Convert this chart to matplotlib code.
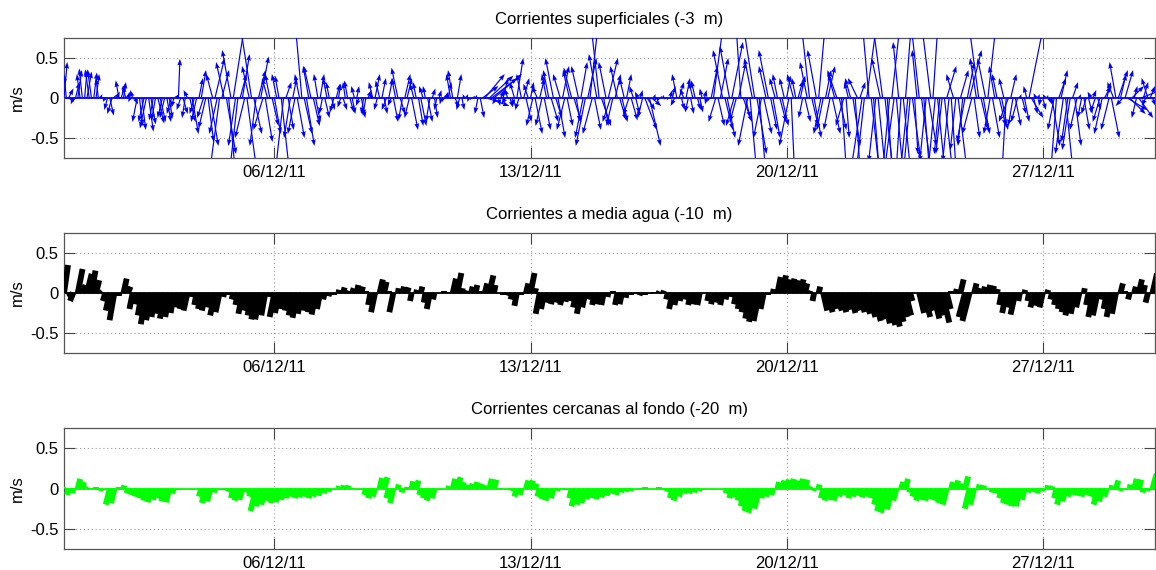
import numpy as np
import matplotlib

matplotlib.use("Agg")
import matplotlib.pyplot as plt
from matplotlib.collections import LineCollection

plt.rcParams["font.family"] = ["Liberation Sans", "DejaVu Sans"]
plt.rcParams["font.size"] = 12

# Time in days of December 2011 (1.0 = 01/12/11 00:00)
T_START = 0.25
SURF_STEP = 0.0625   # surface records every 1.5 h
DEEP_STEP = 0.125    # mid-water and bottom records every 3 h

# Surface currents (-3 m), east / north components in cm/s, one day per row
surf_u = [
    4, -3, 6, 4, -3, 5, 5, -4, -4, 3, 6, -5, -5, 4, 4, -3,
    2, 3, -3, -4, 5, -6, 2, 4, -4, 5, 3, -4, 2, -3, -3, 4,
    -6, 4, 5, -7, -8, 6, 6, -5, -5, 8, 7, -6, -6, 5, 4, -6,
    -3, 4, 2, -5, 6, -4, -5, 7, 8, -6, -7, 5, 6, -8, -9, 7,
    10, -8, 12, -10, -12, 9, -10, 12, 8, -11, 14, -9, -10, 8, 9, -12,
    12, -9, -14, 10, -8, 9, 10, -12, 9, -7, -6, 8, 8, -6, -5, 10,
    -10, 7, 7, -8, 5, -9, 9, -6, -8, 10, 10, -7, -9, 8, 6, -5,
    5, -4, 6, -5, -4, 4, -5, 5, 3, -4, 5, -3, -4, 5, 4, -4,
    3, -4, 5, -3, -4, 4, 2, -5, 6, -4, -5, 5, 4, -6, 5, -4,
    6, -5, -8, 6, -5, 7, 6, -6, 8, -5, -4, 6, 7, -5, -3, 6,
    -5, 4, 4, -3, 3, -2, -2, 3, 4, -5, -6, 5, 5, -4, 3, -2,
    2, -2, -1, 2, 2, -4, 5, 20, 25, 28, 30, 32, 35, -5, 2, 4,
    6, -5, -4, 4, 3, -6, 8, -5, -6, 7, 7, -6, 4, -8, 9, -7,
    6, -8, 8, -6, -7, 9, -10, 8, 9, -9, 8, -10, 7, -8, -10, 9,
    5, -9, 8, -10, -12, 11, 10, -12, 8, -10, -10, 12, 6, -9, 12, -10,
    -8, 7, -9, 8, 7, -6, 6, -7, 8, -5, 5, -4, 3, -6, 15, 10,
    14, 12, 2, -3, -2, 2, 1, -2, -1, 3, 4, -5, -6, 6, 4, -5,
    5, -4, 4, -5, -5, 4, 4, -3, 3, -2, -2, 8, 12, -9, 8, 10,
    -12, 10, 10, -12, 14, -10, -8, 9, -6, 11, 6, -12, 8, -10, -14, 12,
    8, -10, 10, -9, -12, 8, 9, -7, -6, 8, 8, -6, 5, -12, 4, -8,
    -5, 6, 6, -5, 7, -9, -10, 8, 9, -11, 8, -9, -8, 7, 9, -8,
    10, -8, -12, 9, 6, -10, 4, -5, -7, 9, 6, -12, 7, -14, -10, 12,
    -8, 10, 7, -9, 9, -11, -12, 10, 6, -8, 10, -12, 8, -7, -6, 9,
    7, -9, -8, 10, 4, -6, -10, 12, 7, -8, 10, -11, 6, -9, 9, -7,
    -8, 10, 12, -8, 6, -9, -7, 11, 10, -6, -10, 9, 15, -12, 7, -8,
    -12, 9, 8, -10, 10, -8, 9, -7, -6, 8, 8, -6, -5, -12, 7, -6,
    7, -8, 2, 5, 6, -4, 18, 15, 5, -3, 2, -2, 4, -3, 1, 3,
    10, -8, -7, 9, 8, -10, 9, -8, -10, 7, 8, -9, 2, -5, 7, -6,
    5, -4, 4, -6, 4, -9, -10, 8, 5, -10, 10, -8, -8, 12, 7, -9,
    10, 25, 20, 15, 4, -6, 18, 25, 6, -5, -8, 6, 4,
]
surf_v = [
    45, 30, 12, -5, -8, 20, 35, 30, 37, 34, 33, 36, 36, 32, 30, 25,
    5, -3, -5, -15, -22, -20, 4, 8, 22, 18, 20, 15, 8, -5, 10, -8,
    -30, -35, -40, -30, -38, -42, -33, -28, -28, -32, -30, -25, -25, -30, -26, -20,
    -12, 5, 49, -15, -20, -25, 10, -30, -45, -20, -30, 25, 35, -25, -38, -55,
    -60, 30, 50, -45, -90, 35, 45, -70, -90, 60, 90, -60, -90, 30, 55, -50,
    -90, 40, 90, -45, -60, 35, 52, -40, -55, 25, 30, -35, -45, 30, 28, -90,
    -90, 20, -40, -50, 25, -45, -50, 30, 90, -45, -60, 40, 40, -35, -30, 30,
    30, -20, -25, 25, 20, -15, -18, 18, 18, -12, -15, 20, 22, -18, -20, 15,
    15, -10, -25, -20, -22, 10, 5, 20, 30, -15, 22, 25, -20, -15, 25, -10,
    -30, 25, 38, -20, -28, 30, 25, -25, -40, 18, 20, -35, -35, 15, 15, -30,
    -30, 12, -25, -15, 10, -8, -5, 8, 20, 30, 35, -12, 30, -15, -15, 5,
    5, -5, -3, 3, 4, -20, -25, 15, 30, -10, 28, 25, 30, -8, -10, 10,
    25, -8, 12, -12, -10, 20, 50, -15, 30, 25, -30, 18, 20, -35, -45, 15,
    25, -35, -40, 30, 35, -30, 50, -25, -50, 30, 40, -40, -35, 35, 38, -30,
    -30, 40, 45, -50, -60, 50, 90, -45, -40, 55, 90, -35, -35, 45, 50, -30,
    -35, 30, 40, -28, -30, 25, 30, -22, -28, 15, -20, 8, 10, -25, -40, -15,
    -60, -10, 5, -4, -5, 3, 4, -2, -3, 10, 15, -10, 30, 20, -15, 12,
    25, -18, -20, 20, 22, -15, -18, 12, 10, -8, -5, 40, 90, -30, -35, 50,
    60, -40, -50, 65, 70, -35, -30, 45, 90, -30, -25, -60, -90, 50, 90, -70,
    -90, -50, -45, 40, 60, -40, -50, 25, 30, -30, -35, 25, 28, -60, -90, 30,
    25, 22, 28, -25, -30, 45, 90, -35, -50, 60, 90, -45, -40, 35, 40, -40,
    -45, 30, 35, -40, -90, -35, -50, 20, 25, -60, -90, 25, 20, -90, -90, 90,
    90, -90, -90, -80, -90, 50, 90, -90, -90, -85, 90, -90, -90, 70, -90, -90,
    90, -90, -90, -75, -70, 60, 90, -90, -90, -80, -60, 90, 90, -90, -90, -70,
    -70, -90, 40, -80, -90, 30, -65, -90, 35, -60, -55, 45, 60, -45, -50, 50,
    90, -40, -45, 50, 90, -45, -50, 40, 30, -35, -40, 25, -90, -30, 30, -35,
    -35, -30, 5, -20, -30, 15, 90, -25, -20, 6, 5, -10, -15, 5, 4, -8,
    -60, -40, -90, 25, 35, -70, -90, -55, -65, 20, -60, -40, 5, -25, -40, -20,
    -20, 8, 10, -18, -15, -30, -45, 15, 20, -40, -50, 20, 45, 35, 30, -10,
    35, -15, -20, 15, 15, -25, -25, 10, 20, -10, 25, 15, -10,
]

# Mid-water currents (-10 m), cm/s, one day per row
mid_u = [
    5, 3, -4, 6, 4, 6, 5, 4,
    2, -3, -5, -6, 0, 4, 3, -4,
    -3, -5, -7, -6, -5, -4, -6, -5,
    -4, -3, -4, -5, -1, -3, -4, -5,
    -4, -6, -5, -1, 0, -2, -3, -5,
    -4, -5, -6, -7, -5, -1, -6, -5,
    -4, -4, -5, -6, -5, -4, -4, -5,
    -4, -2, -1, 0, 1, 2, 1, 2,
    2, 2, 0, -3, -5, 4, 3, 0,
    -5, 1, 2, 2, -2, 1, 2, -2,
    -4, -2, 0, 0, 0, 4, 5, 1,
    1, 2, 2, 0, 3, 5, 2, 0,
    0, -1, -2, -3, 0, 3, 5, 1,
    -5, -4, -3, -3, -2, -3, -2, -2,
    -4, -5, -4, -2, -3, -3, -3, -1,
    0, -3, -3, -1, 0, 0, -1, 0,
    0, 0, 1, 1, -2, -4, -3, -2,
    -2, -3, -3, -3, 0, -2, -3, -2,
    -3, -2, -1, -3, -4, -5, -6, -7,
    -7, -4, 0, 1, 4, 5, 4, 4,
    3, 4, 3, 1, -2, 2, 5, 6,
    5, 6, 6, 5, 6, 5, 6, 7,
    8, 9, 8, 9, 10, 10, 9, 8,
    7, 3, 0, 6, 8, 6, 8, 7,
    9, 5, 0, 1, 4, -8, -9, 3,
    2, 2, 3, 2, 1, -3, -5, -4,
    -6, -2, 1, -2, -4, -3, -4, 1,
    -2, -3, -4, -5, -6, -5, -4, 1,
    -3, -6, -6, -2, -4, -6, -5, 3,
    0, -2, 2, 4, 2, -3, 6,
]
mid_v = [
    35, -4, -10, 30, 10, 24, 28, 16,
    2, -10, -22, -34, -4, 18, 8, -20,
    -14, -28, -39, -34, -30, -26, -32, -30,
    -25, -18, -20, -22, -5, -15, -20, -22,
    -18, -28, -24, -5, -3, -8, -15, -26,
    -22, -28, -33, -33, -28, -5, -30, -25,
    -20, -22, -28, -31, -26, -22, -24, -27,
    -20, -8, -4, -3, 4, 7, 3, 6,
    10, 8, 2, -15, -24, 17, 14, 2,
    -24, 6, 8, 7, -10, 4, 8, -12,
    -20, -8, 0, 2, 1, 18, 25, 6,
    3, 8, 10, 2, 12, 22, 10, 0,
    -2, -3, -8, -16, -2, 12, 25, 6,
    -26, -20, -12, -14, -12, -15, -11, -10,
    -18, -26, -18, -8, -15, -14, -15, -5,
    2, -15, -14, -6, -2, -1, -3, -2,
    -1, 1, 2, 3, -8, -20, -15, -10,
    -8, -15, -14, -15, 0, -10, -14, -12,
    -15, -8, -5, -14, -20, -24, -32, -36,
    -35, -20, -2, 5, 20, 22, 17, 18,
    16, 17, 12, 3, -10, 8, -22, -24,
    -20, -22, -24, -21, -25, -22, -24, -26,
    -30, -35, -33, -38, -40, -42, -36, -30,
    -28, -10, 0, -25, -30, -22, -32, -28,
    -37, -20, 2, 5, 17, -30, -35, 12,
    6, 8, 10, 9, 5, -15, -25, -18,
    -27, -10, 4, -10, -18, -16, -18, 4,
    -8, -15, -20, -24, -28, -26, -18, 6,
    -15, -30, -28, -8, -20, -30, -26, 12,
    2, -8, 8, 17, 10, -12, 26,
]

# Near-bottom currents (-20 m), cm/s, one day per row
bot_u = [
    1, -2, -1, 3, 2, 1, 0, 0,
    -1, 0, -5, -4, 0, 1, -2, -2,
    -3, -3, -4, -4, -3, -3, -4, -4,
    -2, 0, 0, 0, 0, 0, -3, -5,
    -4, -1, 0, 0, -1, -3, -4, -4,
    -1, -3, -7, -6, -5, -4, -5, -4,
    -3, -3, -3, -3, -3, -3, -3, -3,
    -2, -1, -1, 0, 1, 1, 1, 0,
    0, 0, -2, -3, -3, 3, 4, -3,
    -4, 1, -1, 0, 2, 3, -2, -3,
    -4, -3, 0, 0, 1, 3, 4, 2,
    1, 2, 2, 2, 1, 3, 3, 0,
    0, 0, -1, -3, -2, 3, 3, 2,
    -3, -4, -4, -3, -1, 0, 0, -3,
    -6, -5, -5, -4, -3, -4, -3, -2,
    -2, -2, -1, -1, -1, 0, 0, 0,
    0, 0, 0, 0, -1, -3, -4, -3,
    -2, -2, -1, -1, 0, 0, 0, 0,
    0, -2, -3, -3, -4, -6, -7, -8,
    -6, -3, -3, -2, 2, 3, 3, 3,
    3, 3, 3, 1, -1, 1, -3, -4,
    -4, -4, -3, -2, -3, -3, -2, -3,
    -3, -3, -5, -7, -8, -6, -4, 3,
    3, -1, -3, -4, -4, -4, -3, -4,
    -5, -5, 2, 3, 2, 4, -6, -5,
    1, 1, 0, -1, -2, -3, -4, -5,
    -5, -5, -3, -1, -1, -1, -1, 1,
    1, -3, -5, -4, -3, -2, -2, -3,
    -2, -3, -5, -4, -3, 1, 3, -1,
    0, 1, 3, 3, -1, -1, 5,
]
bot_v = [
    2, -8, -6, 12, 8, 2, 1, 2,
    -3, -2, -20, -18, 2, 4, -6, -8,
    -10, -12, -15, -17, -14, -12, -16, -17,
    -6, -2, -1, 0, -2, -1, -10, -18,
    -16, -5, -2, 1, -4, -12, -15, -14,
    -5, -10, -28, -22, -20, -15, -18, -17,
    -14, -12, -10, -12, -11, -10, -12, -10,
    -9, -6, -4, -2, 3, 4, 4, 1,
    0, -2, -8, -12, -10, 13, 14, -12,
    -18, 5, -5, 2, 9, 10, -8, -12,
    -15, -12, -2, 0, 3, 12, 14, 8,
    5, 6, 8, 6, 4, 12, 11, 1,
    0, -2, -3, -10, -8, 10, 10, 6,
    -10, -13, -15, -12, -3, 1, -2, -12,
    -22, -20, -18, -13, -12, -13, -11, -9,
    -6, -8, -5, -4, -3, -1, 1, 2,
    0, -1, 2, 1, -4, -12, -15, -10,
    -6, -6, -5, -3, -2, -1, -2, 0,
    -2, -6, -12, -11, -15, -22, -28, -30,
    -25, -12, -10, -8, 8, 10, 11, 12,
    10, 12, 11, 3, -3, 5, -12, -15,
    -14, -15, -10, -8, -12, -10, -9, -11,
    -10, -12, -20, -28, -30, -26, -15, 8,
    12, -5, -10, -15, -14, -15, -13, -15,
    -18, -20, 8, 10, 6, 15, -25, -20,
    5, 4, -2, -5, -6, -12, -18, -20,
    -22, -22, -14, -5, -4, -6, -3, 4,
    3, -12, -20, -16, -10, -8, -9, -10,
    -8, -10, -20, -16, -10, 4, 10, -3,
    -2, 5, 12, 11, -5, -3, 18,
]

panel_titles = [
    "Corrientes superficiales (-3  m)",
    "Corrientes a media agua (-10  m)",
    "Corrientes cercanas al fondo (-20  m)",
]
panel_colors = ["#0000ff", "#000000", "#00ff00"]
panel_steps = [SURF_STEP, DEEP_STEP, DEEP_STEP]

tick_days = [6, 13, 20, 27]
tick_labels = ["06/12/11", "13/12/11", "20/12/11", "27/12/11"]
y_ticks = [-0.5, 0, 0.5]
y_tick_labels = ["-0.5", "0", "0.5"]

X_LIM = (0.25, 30.07)
Y_LIM = (-0.75, 0.75)


def stick_scale(ax):
    """Days per m/s so that sticks keep their true direction on screen."""
    fig_w, fig_h = ax.figure.get_size_inches()
    box = ax.get_position()
    days_per_in = (X_LIM[1] - X_LIM[0]) / (box.width * fig_w)
    ms_per_in = (Y_LIM[1] - Y_LIM[0]) / (box.height * fig_h)
    return days_per_in / ms_per_in


def style_axes(ax, title):
    ax.set_xlim(*X_LIM)
    ax.set_ylim(*Y_LIM)
    ax.set_xticks(tick_days)
    ax.set_xticklabels(tick_labels)
    ax.set_yticks(y_ticks)
    ax.set_yticklabels(y_tick_labels)
    ax.set_ylabel("m/s", labelpad=4)
    ax.set_title(title, fontsize=12, pad=10)
    ax.tick_params(direction="in", top=True, right=True, length=8, width=0.8,
                   color="#444444", labelsize=12)
    ax.tick_params(axis="x", pad=5)
    ax.tick_params(axis="y", pad=4)
    ax.grid(True, color="#9a9a9a", linestyle=(0, (1, 2.5)), linewidth=0.8)
    ax.set_axisbelow(True)
    for spine in ax.spines.values():
        spine.set_color("#555555")
        spine.set_linewidth(0.9)


fig = plt.figure(figsize=(11.56, 5.70), dpi=100)
positions = [
    [0.0554, 0.7228, 0.9438, 0.2105],
    [0.0554, 0.3807, 0.9438, 0.2105],
    [0.0554, 0.0368, 0.9438, 0.2123],
]
series = [(surf_u, surf_v), (mid_u, mid_v), (bot_u, bot_v)]

for k, (pos, (u_cm, v_cm), title, color, step) in enumerate(
        zip(positions, series, panel_titles, panel_colors, panel_steps)):
    ax = fig.add_axes(pos)
    style_axes(ax, title)

    u = np.asarray(u_cm, dtype=float) / 100.0
    v = np.asarray(v_cm, dtype=float) / 100.0
    t = T_START + step * np.arange(len(v))
    du = u * stick_scale(ax)

    ax.axhline(0, color=color, linewidth=1.3, zorder=2)
    if k == 0:
        # surface: arrows with heads, clipped at the axes box
        ax.quiver(t, np.zeros_like(t), du, v, angles="xy", scale_units="xy",
                  scale=1, color=color, units="dots", width=1.2,
                  headwidth=4, headlength=5.5, headaxislength=5,
                  zorder=3)
    else:
        # deeper levels: plain sticks from the zero line
        segs = np.stack([np.column_stack([t, np.zeros_like(t)]),
                         np.column_stack([t + du, v])], axis=1)
        ax.add_collection(LineCollection(segs, colors=color, linewidths=4.2,
                                         capstyle="butt", zorder=3))

fig.savefig("out.png", dpi=100)
plt.close(fig)
